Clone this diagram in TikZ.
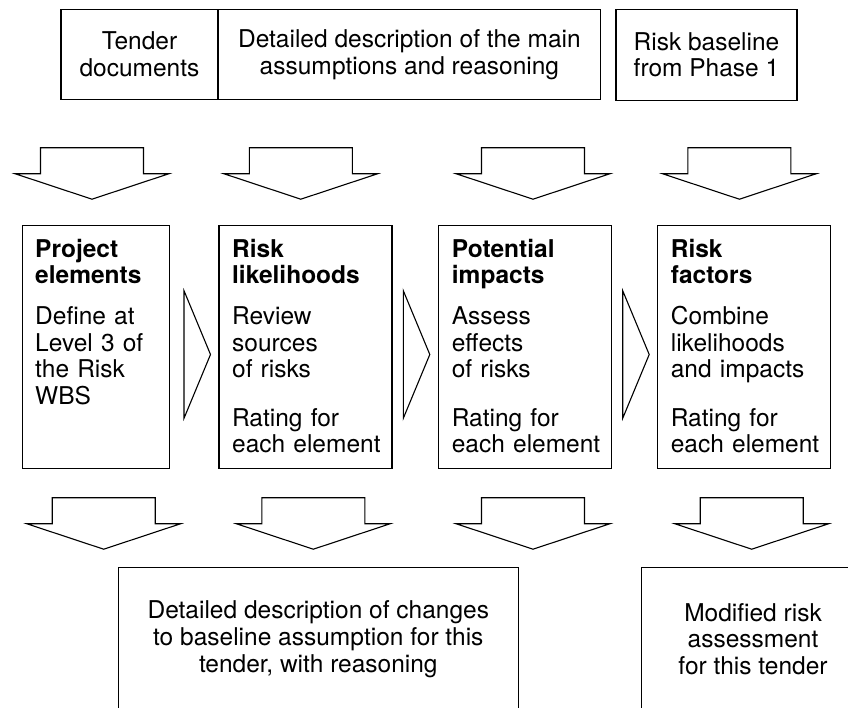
\documentclass[tikz,border=0pt]{standalone}
\usepackage{fontspec}
\setmainfont{TeX Gyre Heros}
\usepackage{tikz}
\usetikzlibrary{calc,positioning}

\tikzset{
  box/.style={draw,line width=1.1pt,inner sep=0pt,align=center},
  steptext/.style={anchor=base west,inner sep=0pt,text width=155pt,align=left},
  pics/bigdown/.style={code={
    \draw[line width=1.1pt] (-51.5,0) -- (51.5,0) -- (51.5,26) -- (77,26) -- (0,51.5)
      -- (-77,26) -- (-51.5,26) -- cycle;}},
  pics/bigright/.style={code={
    \draw[line width=1.1pt] (0,0) -- (26.5,63.8) -- (0,127.6) -- cycle;}}
}

\begin{document}
\begin{tikzpicture}[x=1pt,y=-1pt,font=\fontsize{24.5}{26.7}\selectfont]
\useasboundingbox (0,0) rectangle (848,707);
\fill[white] (0,0) rectangle (848,707);
\clip (0,0) rectangle (848,707);
%%%%%%%%%%%%%%%%
\node[box,minimum width=157pt,minimum height=90.5pt] (tender) at (139.5,54.5) {Tender\\documents};
\node[box,minimum width=382.7pt,minimum height=90.5pt] (assume) at (409.4,54.5) {Detailed description of the main\\assumptions and reasoning};
\node[box,minimum width=181pt,minimum height=90.7pt] (phase) at (706.5,54.7) {Risk baseline\\from Phase 1};
%%%%%%%%%%%%%%%%
\pic at (92,147.7) {bigdown};
\pic at (300.8,147.7) {bigdown};
\pic at (533,147.7) {bigdown};
\pic at (739.4,147.7) {bigdown};
%%%%%%%%%%%%%%%%
\node[box,minimum width=147.3pt,minimum height=243pt] (elem) at (95.7,347.2) {};
\node[steptext] (elemtxt) at ($(elem.north west)+(13.5,32)$)
{\textbf{Project}\\\textbf{elements}\\[14pt]Define at\\Level 3 of\\the Risk\\WBS};
\pic at (184,290.7) {bigright};
%%%%%%%%%%%%%%%%
\node[box,minimum width=173pt,minimum height=243pt] (likely) at (305.5,347.2) {};
\node[steptext] (likelytxt) at ($(likely.north west)+(13.5,32)$)
{\textbf{Risk}\\\textbf{likelihoods}\\[14pt]Review\\sources\\of risks\\[21.6pt]Rating for\\each element};
\pic at (403.3,290.7) {bigright};
%%%%%%%%%%%%%%%%
\node[box,minimum width=172.6pt,minimum height=243pt] (impact) at (525,347.2) {};
\node[steptext] (impacttxt) at ($(impact.north west)+(13.5,32)$)
{\textbf{Potential}\\\textbf{impacts}\\[14pt]Assess\\effects\\of risks\\[21.6pt]Rating for\\each element};
\pic at (622.7,290.7) {bigright};
%%%%%%%%%%%%%%%%
\node[box,minimum width=172.6pt,minimum height=243pt] (factor) at (744,347.2) {};
\node[steptext] (factortxt) at ($(factor.north west)+(13.5,32)$)
{\textbf{Risk}\\\textbf{factors}\\[14pt]Combine\\likelihoods\\and impacts\\[21.6pt]Rating for\\each element};
%%%%%%%%%%%%%%%%
\pic at (103.7,497.7) {bigdown};
\pic at (313.3,497.7) {bigdown};
\pic at (533,497.7) {bigdown};
\pic at (751.7,497.7) {bigdown};
%%%%%%%%%%%%%%%%
\node[box,minimum width=400pt,minimum height=142.6pt] (change) at (318.3,639) {Detailed description of changes\\to baseline assumption for this\\tender, with reasoning};
\node[box,minimum width=223.4pt,minimum height=142.6pt] (modified) at (753,639) {Modified risk\\assessment\\for this tender};
\end{tikzpicture}
\end{document}
